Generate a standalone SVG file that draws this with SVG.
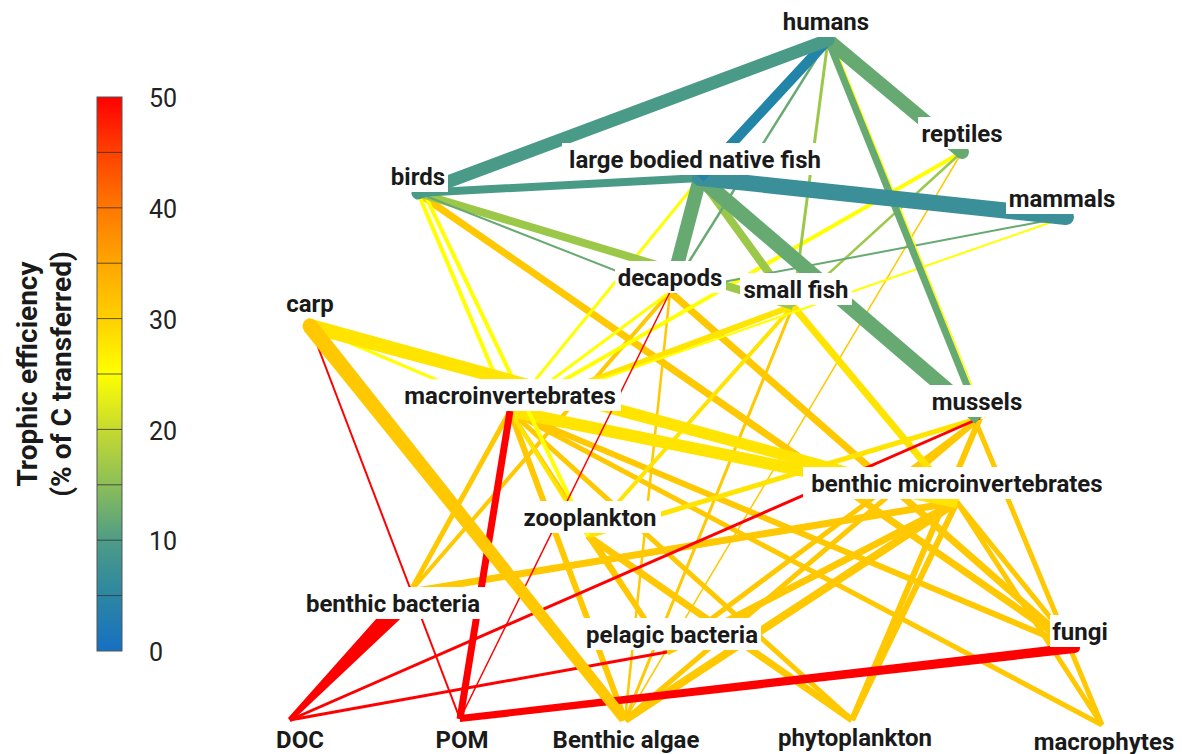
<svg xmlns="http://www.w3.org/2000/svg" width="1182" height="754" viewBox="0 0 1182 754">
<style>
.e{fill:none;stroke-linecap:butt}
.rc{stroke-linecap:round}
.o{stroke:#ffc800}
.y{stroke:#ffff00}
.y2{stroke:#ffe400}
.r{stroke:#ff0000}
.g{stroke:#66aa72}
.lg{stroke:#9cc84a}
.t{stroke:#4a9a88}
.t2{stroke:#3a8f98}
.b{stroke:#2285a8}
.lbl{font-family:Roboto,"Liberation Sans",Arial,sans-serif;font-weight:700;font-size:24px;fill:#1a1a1a;text-anchor:middle}
.box{fill:#ffffff}
.tick{font-family:Roboto,"Liberation Sans",Arial,sans-serif;font-size:25px;fill:#222}
.ttl{font-family:Roboto,"Liberation Sans",Arial,sans-serif;font-weight:700;font-size:28px;fill:#1a1a1a;text-anchor:middle}
</style>
<defs>
<linearGradient id="cb" x1="0" y1="0" x2="0" y2="1">
<stop offset="0" stop-color="#ff0000"/>
<stop offset="0.1" stop-color="#ff4000"/>
<stop offset="0.2" stop-color="#ff7800"/>
<stop offset="0.3" stop-color="#ffa600"/>
<stop offset="0.4" stop-color="#ffd000"/>
<stop offset="0.5" stop-color="#ffff00"/>
<stop offset="0.6" stop-color="#c6da30"/>
<stop offset="0.7" stop-color="#8cbe58"/>
<stop offset="0.8" stop-color="#4e9c86"/>
<stop offset="0.9" stop-color="#2c86a2"/>
<stop offset="1" stop-color="#1670c4"/>
</linearGradient>
</defs>
<rect width="1182" height="754" fill="#ffffff"/>
<g id="legend">
<rect x="97" y="97" width="25" height="554" fill="url(#cb)" stroke="#555" stroke-width="1"/>
<g stroke="#333" stroke-width="0.8">
<line x1="97" y1="152.4" x2="122" y2="152.4"/>
<line x1="97" y1="207.8" x2="122" y2="207.8"/>
<line x1="97" y1="263.2" x2="122" y2="263.2"/>
<line x1="97" y1="318.6" x2="122" y2="318.6"/>
<line x1="97" y1="374" x2="122" y2="374"/>
<line x1="97" y1="429.4" x2="122" y2="429.4"/>
<line x1="97" y1="484.8" x2="122" y2="484.8"/>
<line x1="97" y1="540.2" x2="122" y2="540.2"/>
<line x1="97" y1="595.6" x2="122" y2="595.6"/>
</g>
<text class="tick" x="149" y="107">50</text>
<text class="tick" x="149" y="218">40</text>
<text class="tick" x="149" y="329">30</text>
<text class="tick" x="149" y="440">20</text>
<text class="tick" x="149" y="550">10</text>
<text class="tick" x="149" y="661">0</text>
<text class="ttl" transform="translate(37,374) rotate(-90)">Trophic efficiency</text>
<text class="ttl" transform="translate(71,374) rotate(-90)">(% of C transferred)</text>
</g>
<g id="connectors">
<line class="e o" x1="975" y1="420" x2="1102" y2="725" stroke-width="5"/>
<line class="e o" x1="957" y1="502" x2="1102" y2="725" stroke-width="5"/>
<line class="e o" x1="957" y1="502" x2="1075" y2="648" stroke-width="5"/>
<line class="e o" x1="510" y1="411" x2="1075" y2="648" stroke-width="6"/>
<line class="e o" x1="418" y1="193" x2="1075" y2="648" stroke-width="7"/>
<line class="e o" x1="670" y1="292" x2="1075" y2="648" stroke-width="7"/>
<line class="e o" x1="510" y1="411" x2="1102" y2="725" stroke-width="5"/>
<line class="e o" x1="980" y1="418" x2="852" y2="720" stroke-width="6"/>
<line class="e o" x1="957" y1="502" x2="852" y2="720" stroke-width="6"/>
<line class="e o" x1="588" y1="536" x2="852" y2="720" stroke-width="7"/>
<line class="e o" x1="510" y1="411" x2="852" y2="720" stroke-width="5"/>
<line class="e o" x1="980" y1="418" x2="667" y2="652" stroke-width="5"/>
<line class="e o" x1="957" y1="502" x2="667" y2="652" stroke-width="7"/>
<line class="e o" x1="980" y1="418" x2="625" y2="720" stroke-width="5"/>
<line class="e o" x1="957" y1="502" x2="625" y2="720" stroke-width="8"/>
<line class="e o" x1="957" y1="502" x2="410" y2="592" stroke-width="7"/>
<line class="e o" x1="510" y1="411" x2="625" y2="720" stroke-width="6"/>
<line class="e o" x1="510" y1="411" x2="667" y2="652" stroke-width="4"/>
<line class="e o" x1="510" y1="411" x2="410" y2="592" stroke-width="5"/>
<line class="e o" x1="670" y1="292" x2="410" y2="592" stroke-width="4"/>
<line class="e o" x1="670" y1="292" x2="625" y2="720" stroke-width="2.5"/>
<line class="e o" x1="793" y1="306" x2="625" y2="720" stroke-width="3"/>
<line class="e o" x1="962" y1="152" x2="625" y2="720" stroke-width="1.5"/>
<line class="e o" x1="588" y1="536" x2="667" y2="652" stroke-width="5"/>
<line class="e y2" x1="793" y1="306" x2="957" y2="502" stroke-width="7"/>
<line class="e y2" x1="980" y1="418" x2="588" y2="536" stroke-width="5"/>
<line class="e y2" x1="793" y1="306" x2="588" y2="536" stroke-width="4"/>
<line class="e y2" x1="510" y1="411" x2="588" y2="536" stroke-width="4"/>
<line class="e y2" x1="510" y1="411" x2="957" y2="502" stroke-width="12"/>
<line class="e y2" x1="793" y1="306" x2="510" y2="411" stroke-width="6"/>
<line class="e y" x1="1066" y1="217" x2="510" y2="411" stroke-width="2"/>
<line class="e y" x1="962" y1="152" x2="510" y2="411" stroke-width="4"/>
<line class="e y" x1="670" y1="292" x2="510" y2="411" stroke-width="3"/>
<line class="e y" x1="700" y1="178" x2="510" y2="411" stroke-width="3"/>
<line class="e y" x1="418" y1="193" x2="510" y2="411" stroke-width="4"/>
<line class="e y" x1="424" y1="193" x2="588" y2="536" stroke-width="4"/>
<line class="e y" x1="310" y1="326" x2="510" y2="411" stroke-width="3"/>
<polygon style="fill:#ffe400" points="308,318 957,497 957,507 312,334"/>
<line class="e r" x1="510" y1="411" x2="460" y2="719" stroke-width="7"/>
<line class="e r" x1="310" y1="326" x2="460" y2="719" stroke-width="2"/>
<line class="e r" x1="670" y1="292" x2="460" y2="719" stroke-width="1.5"/>
<line class="e r" x1="290" y1="720" x2="980" y2="418" stroke-width="3"/>
<line class="e r" x1="290" y1="720" x2="667" y2="652" stroke-width="3"/>
<polygon style="fill:#ff0000" points="291,722 415,605 401,591 288,718"/>
<polygon style="fill:#ff0000" points="460,722 1075,653 1075,643 460,715"/>
<circle cx="1075" cy="648" r="5" fill="#ff0000"/>
<polygon style="fill:#ffc800" points="304,331 620,722 630,718 316,321"/>
<circle cx="310" cy="326" r="7.5" fill="#ffc800"/>
<line class="e lg" x1="418" y1="193" x2="793" y2="306" stroke-width="8"/>
<line class="e lg" x1="700" y1="178" x2="793" y2="306" stroke-width="8"/>
<line class="e lg" x1="962" y1="152" x2="793" y2="306" stroke-width="2.5"/>
<line class="e lg" x1="828" y1="40" x2="793" y2="306" stroke-width="3"/>
<line class="e g" x1="418" y1="193" x2="670" y2="292" stroke-width="2"/>
<line class="e g" x1="1066" y1="217" x2="670" y2="292" stroke-width="2"/>
<line class="e g" x1="828" y1="40" x2="670" y2="292" stroke-width="2.5"/>
<line class="e g" x1="700" y1="178" x2="670" y2="292" stroke-width="14"/>
<line class="e g" x1="700" y1="178" x2="980" y2="418" stroke-width="15"/>
<line class="e y" x1="832" y1="40" x2="985" y2="418" stroke-width="1.5"/>
<line class="e g" x1="828" y1="40" x2="980" y2="418" stroke-width="7"/>
<line class="e g rc" x1="828" y1="40" x2="962" y2="152" stroke-width="14"/>
<line class="e t rc" x1="418" y1="193" x2="700" y2="178" stroke-width="8"/>
<line class="e t2 rc" x1="700" y1="178" x2="1066" y2="217" stroke-width="16"/>
<line class="e b" x1="828" y1="40" x2="700" y2="178" stroke-width="10"/>
<line class="e t rc" x1="418" y1="193" x2="828" y2="40" stroke-width="13"/>
</g>
<g id="node-humans"><rect class="box" x="780" y="5" width="92" height="32"/><text class="lbl" x="826" y="30">humans</text></g>
<g id="node-reptiles"><rect class="box" x="918" y="117" width="89" height="32"/><text class="lbl" x="962" y="142">reptiles</text></g>
<g id="node-mammals"><rect class="box" x="1006" y="182" width="113" height="32"/><text class="lbl" x="1062" y="207">mammals</text></g>
<g id="node-birds"><rect class="box" x="389" y="160" width="59" height="32"/><text class="lbl" x="418" y="185">birds</text></g>
<g id="node-large-fish"><rect class="box" x="562" y="143" width="266" height="32"/><text class="lbl" x="695" y="168">large bodied native fish</text></g>
<g id="node-decapods"><rect class="box" x="615" y="261" width="111" height="32"/><text class="lbl" x="670" y="286">decapods</text></g>
<g id="node-small-fish"><rect class="box" x="740" y="273" width="112" height="32"/><text class="lbl" x="796" y="298">small fish</text></g>
<g id="node-carp"><rect class="box" x="284" y="287" width="52" height="30"/><text class="lbl" x="310" y="312">carp</text></g>
<g id="node-macroinvertebrates"><rect class="box" x="399" y="379" width="222" height="32"/><text class="lbl" x="510" y="404">macroinvertebrates</text></g>
<g id="node-mussels"><rect class="box" x="928" y="385" width="96" height="32"/><text class="lbl" x="977" y="410">mussels</text></g>
<g id="node-benthic-micro"><rect class="box" x="803" y="467" width="307" height="32"/><text class="lbl" x="957" y="492">benthic microinvertebrates</text></g>
<g id="node-zooplankton"><rect class="box" x="519" y="501" width="142" height="32"/><text class="lbl" x="590" y="526">zooplankton</text></g>
<g id="node-benthic-bacteria"><rect class="box" x="301" y="587" width="184" height="32"/><text class="lbl" x="393" y="612">benthic bacteria</text></g>
<g id="node-pelagic-bacteria"><rect class="box" x="583" y="618" width="178" height="32"/><text class="lbl" x="672" y="643">pelagic bacteria</text></g>
<g id="node-fungi"><rect class="box" x="1050" y="615" width="60" height="32"/><text class="lbl" x="1080" y="640">fungi</text></g>
<g id="node-DOC"><text class="lbl" x="300" y="748">DOC</text></g>
<g id="node-POM"><text class="lbl" x="462" y="748">POM</text></g>
<g id="node-benthic-algae"><text class="lbl" x="626" y="748">Benthic algae</text></g>
<g id="node-phytoplankton"><text class="lbl" x="855" y="746">phytoplankton</text></g>
<g id="node-macrophytes"><text class="lbl" x="1104" y="750">macrophytes</text></g>
</svg>
